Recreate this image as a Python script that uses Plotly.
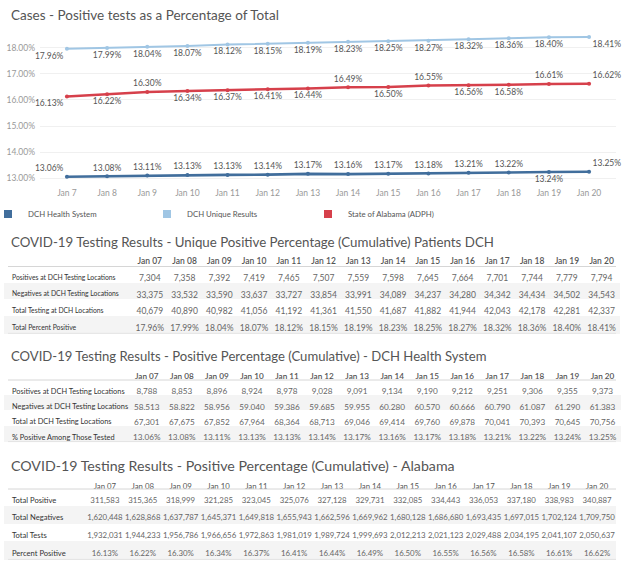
import plotly.graph_objects as go

W, H = 624, 566
FONT = "Lato"

# ---------------- data ----------------
chart_dates = ["Jan 7", "Jan 8", "Jan 9", "Jan 10", "Jan 11", "Jan 12", "Jan 13",
               "Jan 14", "Jan 15", "Jan 16", "Jan 17", "Jan 18", "Jan 19", "Jan 20"]
table_dates = ["Jan 07", "Jan 08", "Jan 09", "Jan 10", "Jan 11", "Jan 12", "Jan 13",
               "Jan 14", "Jan 15", "Jan 16", "Jan 17", "Jan 18", "Jan 19", "Jan 20"]

dch_system_pct = [13.06, 13.08, 13.11, 13.13, 13.13, 13.14, 13.17, 13.16, 13.17, 13.18, 13.21, 13.22, 13.24, 13.25]
dch_unique_pct = [17.96, 17.99, 18.04, 18.07, 18.12, 18.15, 18.19, 18.23, 18.25, 18.27, 18.32, 18.36, 18.40, 18.41]
alabama_pct = [16.13, 16.22, 16.30, 16.34, 16.37, 16.41, 16.44, 16.49, 16.50, 16.55, 16.56, 16.58, 16.61, 16.62]

series_names = ["DCH Health System", "DCH Unique Results", "State of Alabama (ADPH)"]

unique_positives = [7304, 7358, 7392, 7419, 7465, 7507, 7559, 7598, 7645, 7664, 7701, 7744, 7779, 7794]
unique_negatives = [33375, 33532, 33590, 33637, 33727, 33854, 33991, 34089, 34237, 34280, 34342, 34434, 34502, 34543]
unique_total = [40679, 40890, 40982, 41056, 41192, 41361, 41550, 41687, 41882, 41944, 42043, 42178, 42281, 42337]

system_positives = [8788, 8853, 8896, 8924, 8978, 9028, 9091, 9134, 9190, 9212, 9251, 9306, 9355, 9373]
system_negatives = [58513, 58822, 58956, 59040, 59386, 59685, 59955, 60280, 60570, 60666, 60790, 61087, 61290, 61383]
system_total = [67301, 67675, 67852, 67964, 68364, 68713, 69046, 69414, 69760, 69878, 70041, 70393, 70645, 70756]

al_positives = [311583, 315365, 318999, 321285, 323045, 325076, 327128, 329731, 332085, 334443, 336053, 337180, 338983, 340887]
al_negatives = [1620448, 1628868, 1637787, 1645371, 1649818, 1655943, 1662596, 1669962, 1680128, 1686680, 1693435, 1697015, 1702124, 1709750]
al_tests = [1932031, 1944233, 1956786, 1966656, 1972863, 1981019, 1989724, 1999693, 2012213, 2021123, 2029488, 2034195, 2041107, 2050637]

t1_labels = ["Positives at DCH Testing Locations", "Negatives at DCH Testing Locations",
             "Total Testing at DCH Locations", "Total Percent Positive"]
t2_labels = ["Positives at DCH Testing Locations", "Negatives at DCH Testing Locations",
             "Total at DCH Testing Locations", "% Positive Among Those Tested"]
t3_labels = ["Total Positive", "Total Negatives", "Total Tests", "Percent Positive"]

chart_title = "Cases - Positive tests as a Percentage of Total"
t1_title = "COVID-19 Testing Results - Unique Positive Percentage (Cumulative) Patients DCH"
t2_title = "COVID-19 Testing Results - Positive Percentage (Cumulative) - DCH Health System"
t3_title = "COVID-19 Testing Results - Positive Percentage (Cumulative) - Alabama"

# ---------------- styling ----------------
C_DARK = "#416e9c"
C_LIGHT = "#a0c6e4"
C_RED = "#d6404b"
SHADE = "#f4f4f4"


def px_x(p):
    return p / W


def px_y(p):
    return 1 - p / H


def nb(s):
    return s.replace(" ", "\u00a0")


fig = go.Figure()

pos_dark = ["top left"] + ["top center"] * 11 + ["bottom center", "top right"]
pos_light = ["bottom left"] + ["bottom center"] * 12 + ["bottom right"]
pos_red = ["bottom left", "bottom center", "top center", "bottom center", "bottom center",
           "bottom center", "bottom center", "top center", "bottom center", "top center",
           "bottom center", "bottom center", "top center", "top right"]

for name, vals, col, pos, lw in [
    (series_names[0], dch_system_pct, C_DARK, pos_dark, 2.6),
    (series_names[1], dch_unique_pct, C_LIGHT, pos_light, 2),
    (series_names[2], alabama_pct, C_RED, pos_red, 2.5),
]:
    fig.add_trace(go.Scatter(
        x=chart_dates, y=vals, mode="lines+markers+text", name=name,
        line=dict(color=col, width=lw), marker=dict(color=col, size=4),
        text=[f"{v:.2f}%" for v in vals], textposition=pos,
        textfont=dict(family=FONT, size=8.5, color="#555555"),
        showlegend=False, cliponaxis=False, hoverinfo="skip",
    ))

legend_ids = ["legend", "legend2", "legend3"]
legend_x_px = [-12, 147, 308]
for name, col, lid in zip(series_names, [C_DARK, C_LIGHT, C_RED], legend_ids):
    fig.add_trace(go.Scatter(
        x=[None], y=[None], mode="markers", name=name, legend=lid,
        marker=dict(color=col, size=8, symbol="square"), showlegend=True,
    ))

y_ticks = [13, 14, 15, 16, 17, 18]


def add_table(labels, rows, label_w, col_w, top, header_h, row_h,
              label_size, value_size, header_size, header_weight):
    n = len(rows)
    ncol = len(table_dates)
    values = [[nb(l) for l in labels]] + [[rows[r][c] for r in range(n)] for c in range(ncol)]
    fills = [["white" if r % 2 == 0 else SHADE for r in range(n)]]
    x0 = 4
    x1 = x0 + label_w + ncol * col_w
    bottom = top + header_h + n * row_h
    fig.add_trace(go.Table(
        domain=dict(x=[px_x(x0), px_x(x1)], y=[px_y(bottom + 2), px_y(top)]),
        columnwidth=[label_w] + [col_w] * ncol,
        header=dict(values=[""] + [nb(d) for d in table_dates], height=header_h,
                    align=["left"] + ["center"] * ncol, fill_color="white", line_color="white",
                    font=dict(family=FONT, size=header_size, color="#555555", weight=header_weight)),
        cells=dict(values=values, height=row_h, align=["left"] + ["center"] * ncol,
                   fill_color=fills, line_color=fills, line_width=1,
                   font=dict(family=FONT, size=[label_size] + [value_size] * ncol,
                             color=["#333333"] + ["#666666"] * ncol)),
    ))
    fig.add_shape(type="line", xref="paper", yref="paper",
                  x0=px_x(8), x1=px_x(616), y0=px_y(top + header_h), y1=px_y(top + header_h),
                  line=dict(color="#d6d6d6", width=1))
    fig.add_shape(type="line", xref="paper", yref="paper",
                  x0=px_x(8), x1=px_x(616), y0=px_y(bottom), y1=px_y(bottom),
                  line=dict(color="#e4e4e4", width=1))


fmt = lambda arr: [f"{v:,}" for v in arr]
pct = lambda arr: [f"{v:.2f}%" for v in arr]

add_table(t1_labels, [fmt(unique_positives), fmt(unique_negatives), fmt(unique_total), pct(dch_unique_pct)],
          128.6, 34.8, 250, 16.5, 16.7, 6.8, 8.5, 8.5, 600)
add_table(t2_labels, [fmt(system_positives), fmt(system_negatives), fmt(system_total), pct(dch_system_pct)],
          125.45, 35.1, 364.5, 15.5, 15.4, 7.4, 8.2, 8.2, 600)
add_table(t3_labels, [fmt(al_positives), fmt(al_negatives), fmt(al_tests), pct(alabama_pct)],
          82.05, 37.9, 475, 14, 17.6, 7.6, 7.85, 7.8, 400)

for txt, yc, size in [(chart_title, 15, 13.5), (t1_title, 242, 13.3), (t2_title, 356, 13.1), (t3_title, 465, 14.2)]:
    fig.add_annotation(text=txt, xref="paper", yref="paper", x=px_x(9), y=px_y(yc),
                       xanchor="left", yanchor="middle", showarrow=False,
                       font=dict(family=FONT, size=size, color="#555555"))

legend_common = dict(orientation="h", xanchor="left", y=px_y(214), yanchor="middle",
                     itemwidth=30, font=dict(family=FONT, size=7.8, color="#555555"),
                     bgcolor="rgba(0,0,0,0)")

fig.update_layout(
    width=W, height=H, margin=dict(l=0, r=0, t=0, b=0, autoexpand=False),
    paper_bgcolor="white", plot_bgcolor="white",
    font=dict(family=FONT, color="#555555"),
    xaxis=dict(domain=[px_x(40), px_x(616)], type="category", range=[-0.67, 13.67],
               showgrid=False, zeroline=False, showline=False, ticks="", automargin=False,
               tickfont=dict(family=FONT, size=8.5, color="#999999"), fixedrange=True),
    yaxis=dict(domain=[px_y(186), px_y(30)], range=[12.705, 18.678],
               tickvals=y_ticks, ticktext=[f"{v:.2f}%" for v in y_ticks], automargin=False,
               showgrid=True, gridcolor="#f0f0f0", zeroline=False, showline=False, ticks="",
               ticklabelstandoff=4,
               tickfont=dict(family=FONT, size=8.5, color="#999999"), fixedrange=True),
    legend=dict(x=px_x(legend_x_px[0]), **legend_common),
    legend2=dict(x=px_x(legend_x_px[1]), **legend_common),
    legend3=dict(x=px_x(legend_x_px[2]), **legend_common),
)

fig.write_html("out.html", config={"displayModeBar": False},
               post_script="document.body.style.margin='0px';document.body.style.overflow='hidden';")
